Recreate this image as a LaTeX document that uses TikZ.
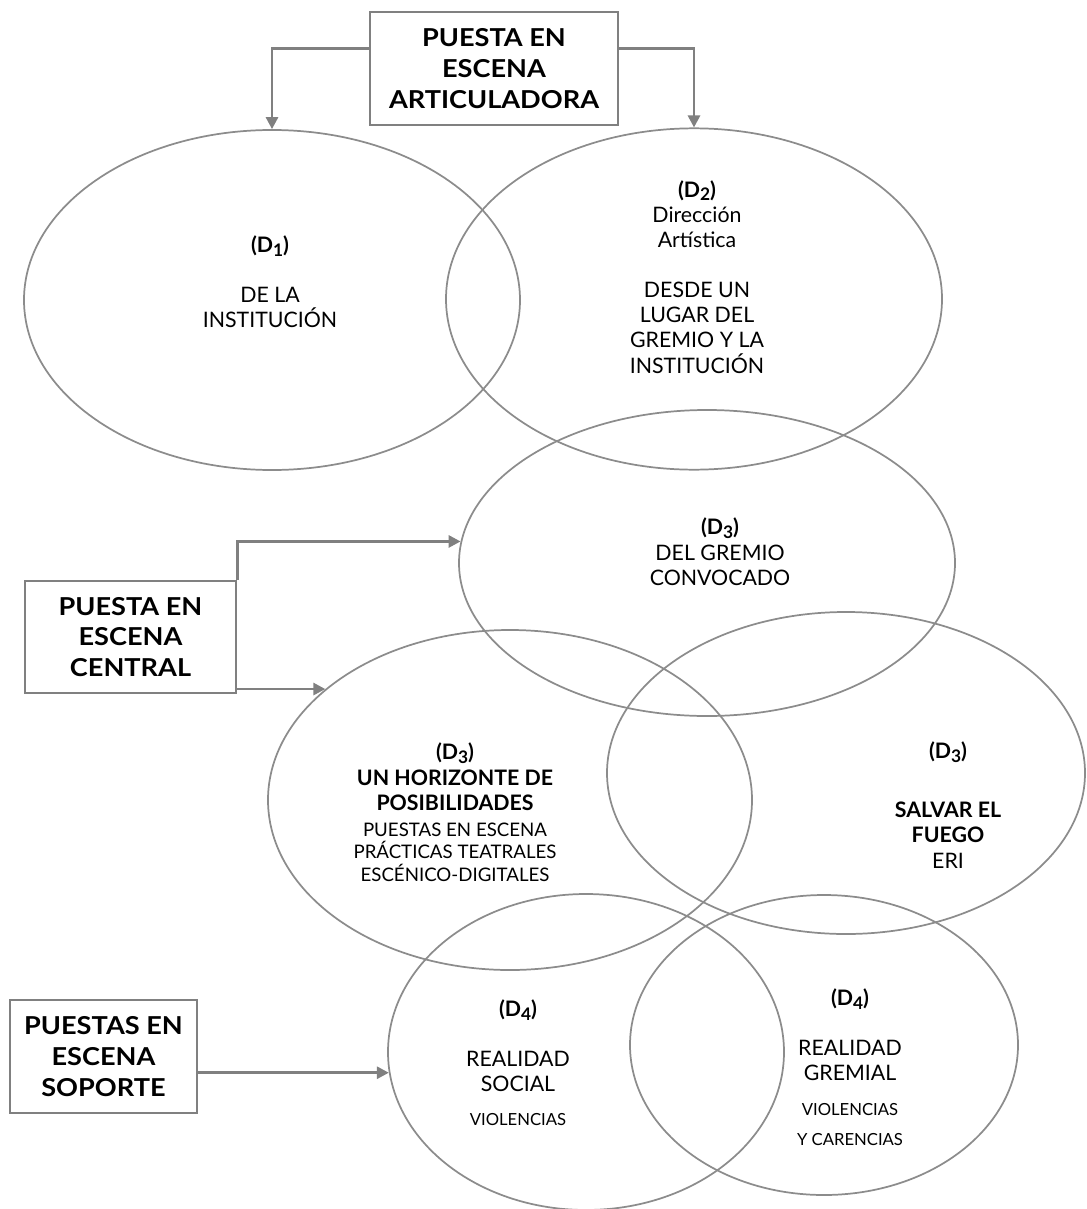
\documentclass[tikz,border=0pt]{standalone}
\usepackage{fontspec}
\setmainfont{Lato}
\newfontfamily\boxfont{Lato}[FakeStretch = 1.1]
\newcommand{\dsub}[1]{\raisebox{-0.3ex}{\fontsize{13}{13}\selectfont #1}}
\usetikzlibrary{arrows.meta}
\usetikzlibrary{shapes}

\begin{document}
\begin{tikzpicture}[x = 0.75pt, y = -0.75pt, font = \fontsize{16}{19}\selectfont]
	\tikzstyle{ovalStyle} = [shape = ellipse, draw = gray!90, line width = 1.3pt, inner sep = 0pt]
	\tikzstyle{boxStyle} = [shape = rectangle, draw = gray, line width = 1.8pt, align = center, inner sep = 0pt, font = \boxfont\fontsize{18.5}{23}\selectfont\bfseries]
	\tikzstyle{labelStyle} = [align = center, inner sep = 0pt, text = black]
	\tikzstyle{smallStyle} = [align = center, inner sep = 0pt, font = \fontsize{12.5}{22.5}\selectfont]
	\tikzstyle{arrowStyle} = [draw = gray, line width = 2.1pt, -{Triangle[length = 9pt, width = 9pt]}]
	\useasboundingbox (0,0) rectangle (1086,1209);
	% boxes
	\node[boxStyle, minimum width = 186pt, minimum height = 84.75pt] (p0) at (494,68.5) {PUESTA EN\\ESCENA\\ARTICULADORA};
	\node[boxStyle, minimum width = 158.25pt, minimum height = 84pt] (p1) at (130.5,637) {PUESTA EN\\ESCENA\\CENTRAL};
	\node[boxStyle, minimum width = 140.25pt, minimum height = 84.75pt] (p2) at (103.5,1056.5) {PUESTAS EN\\ESCENA\\SOPORTE};
	% ellipses
	\node[ovalStyle, minimum width = 372pt, minimum height = 255pt] (d1) at (272,300) {};
	\node[ovalStyle, minimum width = 372pt, minimum height = 256pt] (d2) at (694,299) {};
	\node[ovalStyle, minimum width = 372pt, minimum height = 229.5pt] (d3a) at (707,563) {};
	\node[ovalStyle, minimum width = 363pt, minimum height = 255pt] (d3b) at (510,800) {};
	\node[ovalStyle, minimum width = 358.5pt, minimum height = 241.5pt] (d3c) at (846,773) {};
	\node[ovalStyle, minimum width = 297pt, minimum height = 237pt] (d4a) at (586,1052) {};
	\node[ovalStyle, minimum width = 291pt, minimum height = 225pt] (d4b) at (824,1045) {};
	% labels
	\node[labelStyle] (t1) at (270,282) {\textbf{(D\dsub{1})}\\[18pt]DE LA\\INSTITUCIÓN};
	\node[labelStyle] (t2) at (697,277) {\textbf{(D\dsub{2})}\\Dirección\\Artística\\[18pt]DESDE UN\\LUGAR DEL\\GREMIO Y LA\\INSTITUCIÓN};
	\node[labelStyle] (t3) at (720,552) {\textbf{(D\dsub{3})}\\DEL GREMIO\\CONVOCADO};
	\node[labelStyle] (t4) at (455,777) {\textbf{(D\dsub{3})}\\\textbf{UN HORIZONTE DE}\\\textbf{POSIBILIDADES}};
	\node[smallStyle, font = \fontsize{14}{17}\selectfont] (s4) at (455,852) {PUESTAS EN ESCENA\\PRÁCTICAS TEATRALES\\ESCÉNICO-DIGITALES};
	\node[labelStyle] (t5) at (948,805) {\textbf{(D\dsub{3})}\\[25pt]\textbf{SALVAR EL}\\\textbf{FUEGO}\\ERI};
	\node[labelStyle] (t6) at (518,1046) {\textbf{(D\dsub{4})}\\[18pt]REALIDAD\\SOCIAL};
	\node[smallStyle] (s6) at (518,1120) {VIOLENCIAS};
	\node[labelStyle] (t7) at (850,1035) {\textbf{(D\dsub{4})}\\[18pt]REALIDAD\\GREMIAL};
	\node[smallStyle] (s7) at (850,1125) {VIOLENCIAS\\Y CARENCIAS};
	% arrows
	\draw[arrowStyle] (p0.171) -| (d1.north);
	\draw[arrowStyle] (p0.9) -| (d2.north);
	\draw[arrowStyle] (p1.north east) |- (d3a.175);
	\draw[arrowStyle] (p1.east |- d3b.149) -- (d3b.149);
	\draw[arrowStyle] (p2.east |- d4a.186) -- (d4a.186);
\end{tikzpicture}
\end{document}
